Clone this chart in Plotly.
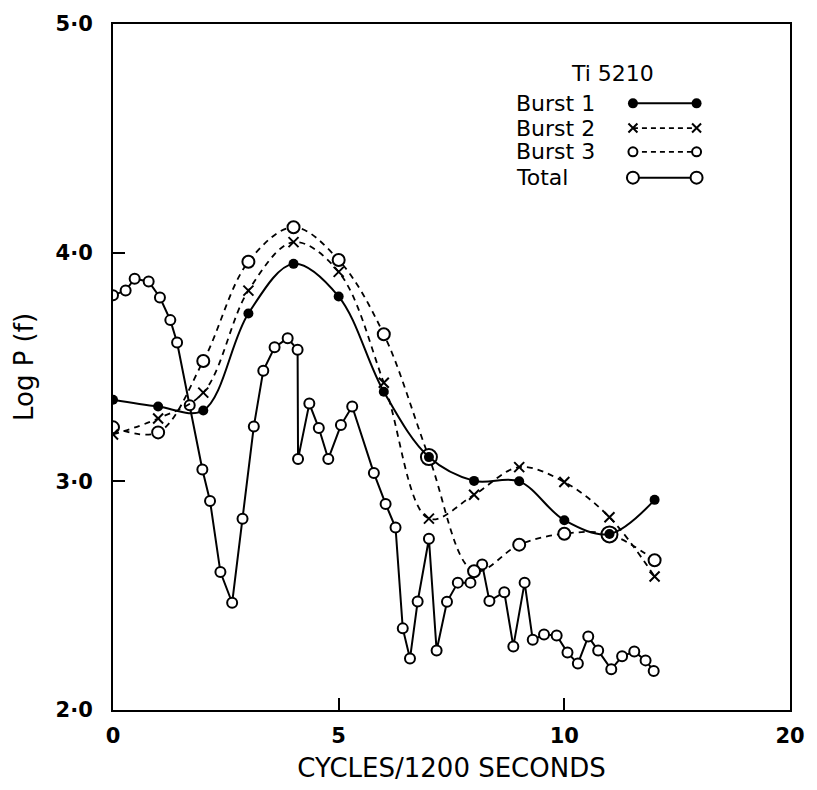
import plotly.graph_objects as go

# Power spectra, Ti 5210: log P(f) against frequency (cycles / 1200 s)
burst_x = [0, 1, 2, 3, 4, 5, 6, 7, 8, 9, 10, 11, 12]
burst1 = [3.357, 3.327, 3.31, 3.734, 3.951, 3.808, 3.392, 3.106, 3.002, 3.0, 2.830, 2.770, 2.919]
burst2 = [3.205, 3.275, 3.388, 3.834, 4.046, 3.916, 3.431, 2.837, 2.941, 3.062, 2.997, 2.843, 2.584]
burst3 = [3.236, 3.214, 3.526, 3.960, 4.111, 3.968, 3.643, 3.106, 2.607, 2.723, 2.771, 2.768, 2.655]

total_x = [0.0, 0.28, 0.48, 0.79, 1.04, 1.27, 1.42, 1.70, 1.98, 2.15, 2.38, 2.64, 2.87,
           3.12, 3.33, 3.58, 3.87, 4.09, 4.10, 4.35, 4.56, 4.77, 5.05, 5.30, 5.78, 6.04,
           6.26, 6.42, 6.58, 6.75, 7.00, 7.17, 7.40, 7.64, 7.92, 8.18, 8.34, 8.67, 8.87,
           9.12, 9.30, 9.55, 9.83, 10.07, 10.30, 10.53, 10.75, 11.04, 11.28, 11.55, 11.80, 11.98]
total_y = [3.814, 3.835, 3.886, 3.874, 3.804, 3.705, 3.607, 3.333, 3.052, 2.914, 2.603, 2.469, 2.836,
           3.240, 3.484, 3.586, 3.626, 3.575, 3.098, 3.340, 3.233, 3.098, 3.246, 3.327, 3.036, 2.901,
           2.798, 2.357, 2.225, 2.474, 2.749, 2.260, 2.473, 2.557, 2.557, 2.636, 2.477, 2.515, 2.278,
           2.557, 2.307, 2.330, 2.326, 2.251, 2.203, 2.321, 2.260, 2.178, 2.235, 2.256, 2.217, 2.171]

x_ticks = [0, 5, 10, 15]
x_tick_text = ["0", "5", "10", "20"]
y_ticks = [2, 3, 4, 5]
y_tick_text = ["2·0", "3·0", "4·0", "5·0"]

series_names = ["Burst 1", "Burst 2", "Burst 3", "Total"]
specimen = "Ti 5210"

INK = "black"
FONT = "DejaVu Sans"
DASH = "6px,5px"


def curve(x, y, width, dash=None, spline=True):
    line = dict(color=INK, width=width)
    if dash:
        line["dash"] = dash
    if spline:
        line.update(shape="spline", smoothing=1.0)
    return go.Scatter(x=x, y=y, mode="lines", line=line, showlegend=False, hoverinfo="skip")


def points(x, y, name, **marker):
    marker.setdefault("opacity", 1)
    return go.Scatter(x=x, y=y, mode="markers", name=name, marker=marker, showlegend=False)


fig = go.Figure()

# Total: finely sampled, straight segments, open circles
fig.add_trace(curve(total_x, total_y, 2, spline=False))
fig.add_trace(points(total_x, total_y, series_names[3], symbol="circle", size=10,
                     color="white", line=dict(color=INK, width=2)))

# Burst 3: dashed smooth curve, open circles (larger where they ring Burst 1 dots)
b3_sizes = [16 if abs(a - b) < 0.01 else 12 for a, b in zip(burst1, burst3)]
fig.add_trace(curve(burst_x, burst3, 1.8, dash=DASH))
fig.add_trace(points(burst_x, burst3, series_names[2], symbol="circle", size=b3_sizes,
                     color="white", line=dict(color=INK, width=2)))

# Burst 2: dashed smooth curve, crosses
fig.add_trace(curve(burst_x, burst2, 1.8, dash=DASH))
fig.add_trace(points(burst_x, burst2, series_names[1], symbol="x-thin", size=10,
                     color=INK, line=dict(color=INK, width=2)))

# Burst 1: solid smooth curve, filled dots
fig.add_trace(curve(burst_x, burst1, 2))
fig.add_trace(points(burst_x, burst1, series_names[0], symbol="circle", size=10, color=INK))

# Key in the upper right: label on the left, sample on the right
key_x0, key_x1 = 11.52, 12.93
key_rows = [4.653, 4.545, 4.441, 4.328]
key_dash = [None, "5px,4px", "5px,4px", None]
key_markers = [
    dict(symbol="circle", size=10, color=INK),
    dict(symbol="x-thin", size=9, color=INK, line=dict(color=INK, width=2)),
    dict(symbol="circle", size=9, color="white", line=dict(color=INK, width=2)),
    dict(symbol="circle", size=12, color="white", line=dict(color=INK, width=2)),
]
for name, ky, dash, mk in zip(series_names, key_rows, key_dash, key_markers):
    fig.add_trace(curve([key_x0, key_x1], [ky, ky], 2 if dash is None else 1.8,
                        dash=dash, spline=False))
    fig.add_trace(points([key_x0, key_x1], [ky, ky], name, **mk))
    fig.add_annotation(x=8.89, y=ky, xref="x", yref="y", text=name, showarrow=False,
                       xanchor="left", yanchor="middle",
                       font=dict(family=FONT, size=22, color=INK))
fig.add_annotation(x=11.07, y=4.783, xref="x", yref="y", text=specimen, showarrow=False,
                   xanchor="center", yanchor="middle",
                   font=dict(family=FONT, size=22, color=INK))

axis_common = dict(
    showline=True, linecolor=INK, linewidth=2, mirror=True,
    ticks="inside", ticklen=12, tickwidth=2, tickcolor=INK,
    showgrid=False, zeroline=False,
    tickfont=dict(family=FONT, size=21, color=INK, weight="bold"),
    ticklabeloverflow="allow",
)

fig.update_xaxes(range=[0, 15], tickvals=x_ticks, ticktext=x_tick_text,
                 title=dict(text="CYCLES/1200 SECONDS", standoff=12,
                            font=dict(family=FONT, size=26, color=INK)),
                 ticklabelstandoff=6, **axis_common)
fig.update_yaxes(range=[2, 5], tickvals=y_ticks, ticktext=y_tick_text,
                 title=dict(text="Log P (f)", standoff=14,
                            font=dict(family=FONT, size=26, color=INK)),
                 ticklabelstandoff=14, **axis_common)

fig.update_layout(
    width=817, height=790,
    margin=dict(l=113, r=14, t=18, b=80),
    plot_bgcolor="white", paper_bgcolor="white",
    showlegend=False,
    font=dict(family=FONT, color=INK),
)

fig.write_html("out.html")
